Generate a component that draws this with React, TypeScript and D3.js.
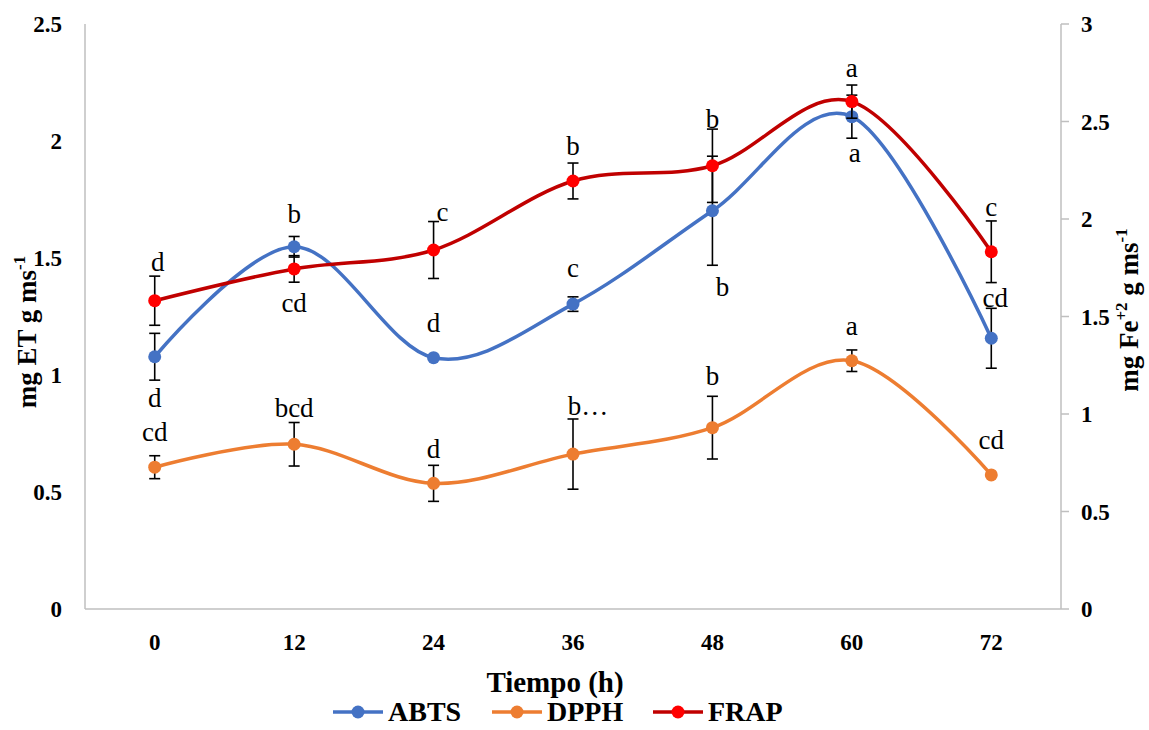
import * as d3 from 'd3'

const times = ['0', '12', '24', '36', '48', '60', '72']
const abts = [1.078, 1.548, 1.074, 1.303, 1.702, 2.104, 1.157]
const abtsErr = [0.1, 0.044, 0.004, 0.031, 0.233, 0.092, 0.128]
const dpph = [0.606, 0.704, 0.537, 0.662, 0.775, 1.061, 0.573]
const dpphErr = [0.049, 0.093, 0.077, 0.15, 0.134, 0.046, 0.003]
const frap = [1.581, 1.744, 1.841, 2.195, 2.273, 2.602, 1.832]
const frapErr = [0.126, 0.068, 0.146, 0.092, 0.188, 0.085, 0.158]
const abtsLetters = ['d', 'b', 'd', 'c', 'b', 'a', 'cd']
const dpphLetters = ['cd', 'bcd', 'd', 'b…', 'b', 'a', 'cd']
const frapLetters = ['d', 'cd', 'c', 'b', 'b', 'a', 'c']
const leftTicks = [0, 0.5, 1, 1.5, 2, 2.5]
const rightTicks = [0, 0.5, 1, 1.5, 2, 2.5, 3]

// where each letter sits relative to its point (px)
const abtsLabelDy = [50, -24, -26, -27, 85, 45, -31]
const abtsLabelDx = [0, 0, 0, 0, 10, 3, 4]
const dpphLabelDy = [-26, -27, -25, -39, -43, -26, -26]
const dpphLabelDx = [0, 0, 0, 15, 0, 0, 0]
const frapLabelDy = [-30, 43, -29, -26, -38, -25, -36]
const frapLabelDx = [3, 0, 9, 0, 0, 0, 0]

const W = 1149
const H = 730
const left = 85
const right = 1061
const top = 24
const bottom = 609
const font = "'Liberation Serif', 'DejaVu Serif', 'Times New Roman', serif"
const axisColor = '#bfbfbf'

const x = d3.scaleBand().domain(times).range([left, right]).padding(0)
const cx = (t) => x(t) + x.bandwidth() / 2
const yL = d3.scaleLinear().domain([0, 2.5]).range([bottom, top])
const yR = d3.scaleLinear().domain([0, 3]).range([bottom, top])

const series = [
  { name: 'ABTS', values: abts, err: abtsErr, letters: abtsLetters, dy: abtsLabelDy, dx: abtsLabelDx, y: yL, line: '#4472C4', marker: '#4472C4' },
  { name: 'DPPH', values: dpph, err: dpphErr, letters: dpphLetters, dy: dpphLabelDy, dx: dpphLabelDx, y: yL, line: '#ED7D31', marker: '#ED7D31' },
  { name: 'FRAP', values: frap, err: frapErr, letters: frapLetters, dy: frapLabelDy, dx: frapLabelDx, y: yR, line: '#C00000', marker: '#FF0000' },
]

const Series = ({ s }) => {
  const line = d3
    .line()
    .x((d, i) => cx(times[i]))
    .y((d) => s.y(d))
    .curve(d3.curveCardinal.tension(0))
  return (
    <g>
      <path d={line(s.values)} fill='none' stroke={s.line} strokeWidth={3.5} />
      {s.values.map((v, i) => {
        const px = cx(times[i])
        const y1 = s.y(v + s.err[i])
        const y2 = s.y(v - s.err[i])
        return (
          <g key={i} stroke='#000' strokeWidth={1.6}>
            <line x1={px} x2={px} y1={y1} y2={y2} />
            <line x1={px - 5.5} x2={px + 5.5} y1={y1} y2={y1} />
            <line x1={px - 5.5} x2={px + 5.5} y1={y2} y2={y2} />
          </g>
        )
      })}
      {s.values.map((v, i) => (
        <circle key={i} cx={cx(times[i])} cy={s.y(v)} r={6.5} fill={s.marker} />
      ))}
      {s.values.map((v, i) => (
        <text key={i} x={cx(times[i]) + s.dx[i]} y={s.y(v) + s.dy[i]} textAnchor='middle' fontSize={27} fill='#000'>
          {s.letters[i]}
        </text>
      ))}
    </g>
  )
}

export default function App() {
  const legendX = [333, 492, 653]
  return (
    <svg width={W} height={H} style={{ display: 'block', position: 'absolute', left: 0, top: 0, background: '#fff', fontFamily: font }}>
      <rect width={W} height={H} fill='#fff' />
      {/* axes */}
      <line x1={left} x2={left} y1={top} y2={bottom} stroke={axisColor} strokeWidth={1.5} />
      <line x1={left} x2={right} y1={bottom} y2={bottom} stroke={axisColor} strokeWidth={1.5} />
      <line x1={right} x2={right} y1={top} y2={bottom} stroke={axisColor} strokeWidth={1.5} />
      {rightTicks.map((t) => (
        <line key={t} x1={right} x2={right + 8} y1={yR(t)} y2={yR(t)} stroke={axisColor} strokeWidth={1.5} />
      ))}
      <g fontWeight='bold' fontSize={23} fill='#000'>
        {leftTicks.map((t) => (
          <text key={t} x={62} y={yL(t)} dy='0.35em' textAnchor='end'>
            {t}
          </text>
        ))}
        {rightTicks.map((t) => (
          <text key={t} x={1081} y={yR(t)} dy='0.35em' textAnchor='start'>
            {t}
          </text>
        ))}
        {times.map((t) => (
          <text key={t} x={cx(t)} y={650} textAnchor='middle'>
            {t}
          </text>
        ))}
      </g>
      {/* titles */}
      <g fontWeight='bold' fill='#000'>
        <text x={555} y={692} textAnchor='middle' fontSize={29}>
          Tiempo (h)
        </text>
        <text transform='translate(36,332) rotate(-90)' textAnchor='middle' fontSize={27}>
          mg ET g ms
          <tspan dy={-11} fontSize={17}>
            -1
          </tspan>
        </text>
        <text transform='translate(1138,310) rotate(-90)' textAnchor='middle' fontSize={27}>
          mg Fe
          <tspan dy={-11} fontSize={17}>
            +2
          </tspan>
          <tspan dy={11}> g ms</tspan>
          <tspan dy={-11} fontSize={17}>
            -1
          </tspan>
        </text>
      </g>
      {series.map((s) => (
        <Series key={s.name} s={s} />
      ))}
      {/* legend */}
      {series.map((s, i) => (
        <g key={s.name}>
          <line x1={legendX[i]} x2={legendX[i] + 50} y1={712} y2={712} stroke={s.line} strokeWidth={3.5} />
          <circle cx={legendX[i] + 25} cy={712} r={6.5} fill={s.marker} />
          <text x={legendX[i] + 55} y={721} fontWeight='bold' fontSize={28} fill='#000'>
            {s.name}
          </text>
        </g>
      ))}
    </svg>
  )
}
